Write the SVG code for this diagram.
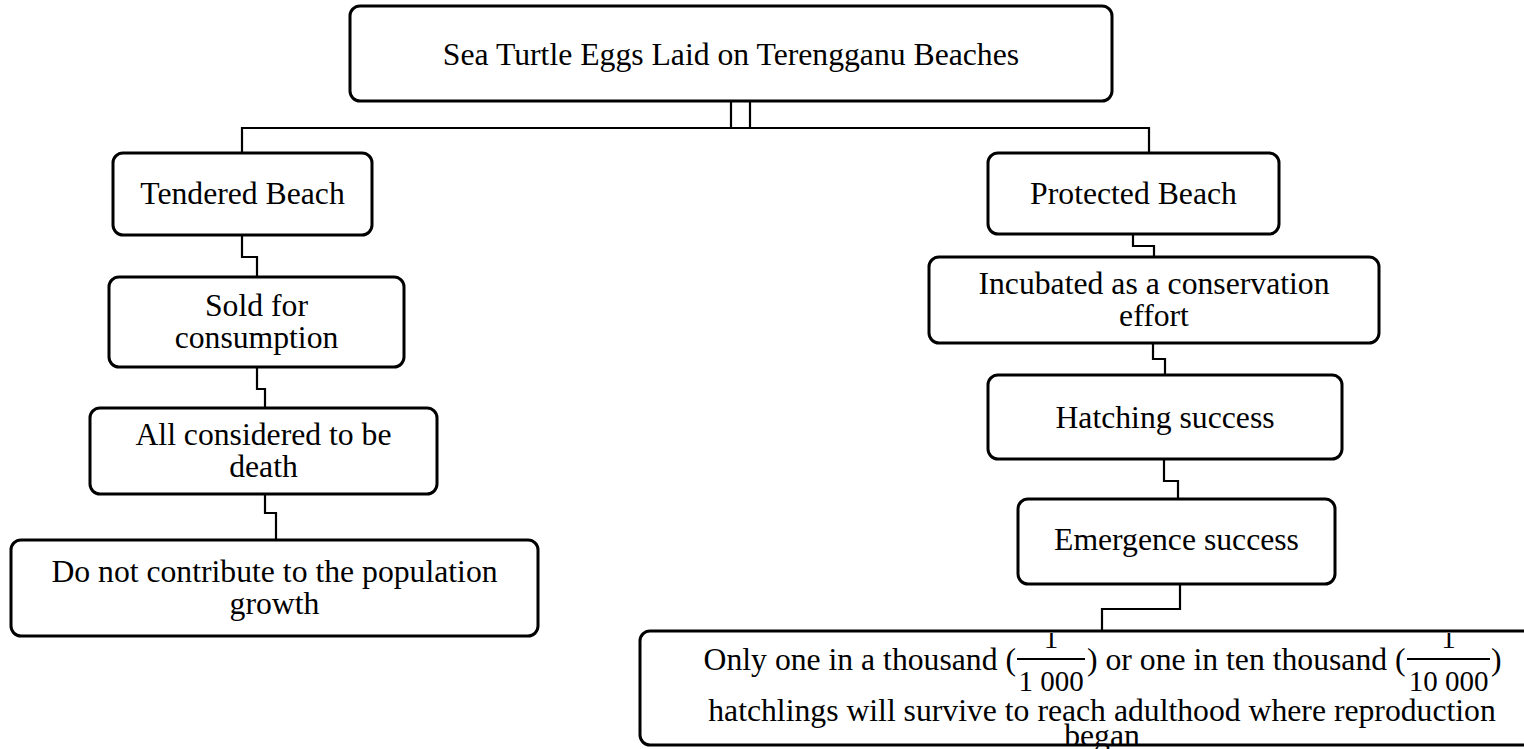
<svg xmlns="http://www.w3.org/2000/svg" width="1524" height="749" viewBox="0 0 1524 749">
<style>
.box{fill:#fff;stroke:#000;stroke-width:3}
.t{font-family:"Liberation Serif","Times New Roman",serif;font-size:31.7px;fill:#000;text-anchor:middle}
.s{text-anchor:start}
.e{text-anchor:end}
.f{font-family:"Liberation Serif","Times New Roman",serif;font-size:29px;fill:#000;text-anchor:middle}
.c{fill:none;stroke:#000;stroke-width:2.2}
.bar{stroke:#000;stroke-width:2.2}
</style>
<defs>
<clipPath id="lastclip"><rect x="600" y="633" width="924" height="116"/></clipPath>
</defs>
<rect width="1524" height="749" fill="#fff"/>
<g id="connectors">
<path class="c" d="M731,101 V128 M750,101 V128 M242,153 V128 H1149 V153"/>
<path class="c" d="M242,235 V257 H257 V277"/>
<path class="c" d="M257,367 V389 H265 V408"/>
<path class="c" d="M265,494 V513 H276 V540"/>
<path class="c" d="M1133,234 V246 H1154 V257"/>
<path class="c" d="M1153,343 V359 H1165 V375"/>
<path class="c" d="M1164,459 V481 H1178 V499"/>
<path class="c" d="M1180,584 V609 H1102 V631"/>
</g>
<g id="root">
<rect class="box" x="350" y="6" width="762" height="95" rx="10"/>
<text class="t" x="731" y="65">Sea Turtle Eggs Laid on Terengganu Beaches</text>
</g>
<g id="tendered">
<rect class="box" x="113" y="153" width="259" height="82" rx="10"/>
<text class="t" x="242.5" y="204">Tendered Beach</text>
</g>
<g id="sold">
<rect class="box" x="109" y="277" width="295" height="90" rx="10"/>
<text class="t" x="256.5" y="316">Sold for</text>
<text class="t" x="256.5" y="348">consumption</text>
</g>
<g id="death">
<rect class="box" x="90" y="408" width="347" height="86" rx="10"/>
<text class="t" x="263.5" y="445">All considered to be</text>
<text class="t" x="263.5" y="477">death</text>
</g>
<g id="nocontribute">
<rect class="box" x="11" y="540" width="527" height="96" rx="10"/>
<text class="t" x="274.5" y="582">Do not contribute to the population</text>
<text class="t" x="274.5" y="614">growth</text>
</g>
<g id="protected">
<rect class="box" x="988" y="153" width="291" height="81" rx="10"/>
<text class="t" x="1133.5" y="204">Protected Beach</text>
</g>
<g id="incubated">
<rect class="box" x="929" y="257" width="450" height="86" rx="10"/>
<text class="t" x="1154" y="294">Incubated as a conservation</text>
<text class="t" x="1154" y="326">effort</text>
</g>
<g id="hatching">
<rect class="box" x="988" y="375" width="354" height="84" rx="10"/>
<text class="t" x="1165" y="428">Hatching success</text>
</g>
<g id="emergence">
<rect class="box" x="1018" y="499" width="317" height="85" rx="10"/>
<text class="t" x="1176.5" y="550">Emergence success</text>
</g>
<g id="survival">
<rect class="box" x="640" y="631" width="930" height="114" rx="10"/>
<g clip-path="url(#lastclip)">
<text class="t e" x="1016" y="670">Only one in a thousand (</text>
<line class="bar" x1="1017" y1="659" x2="1085" y2="659"/>
<text class="f" x="1051" y="648">1</text>
<text class="f" x="1051" y="691">1 000</text>
<text class="t s" x="1087" y="670">) or one in ten thousand (</text>
<line class="bar" x1="1407" y1="659" x2="1490" y2="659"/>
<text class="f" x="1448.5" y="648">1</text>
<text class="f" x="1448.5" y="691">10 000</text>
<text class="t s" x="1491" y="670">)</text>
<text class="t" x="1102" y="721">hatchlings will survive to reach adulthood where reproduction</text>
<text class="t" x="1102" y="746">began</text>
</g>
</g>
</svg>
